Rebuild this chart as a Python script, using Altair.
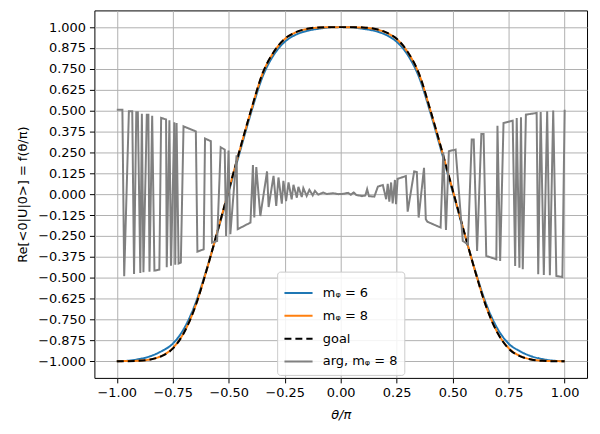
import altair as alt
import pandas as pd

# theta / pi sample grid for the smooth curves
theta = [-1.00, -0.95, -0.90, -0.85, -0.80, -0.75, -0.70, -0.65, -0.60, -0.55,
         -0.50, -0.45, -0.40, -0.35, -0.30, -0.25, -0.20, -0.15, -0.10, -0.05,
         0.00,
         0.05, 0.10, 0.15, 0.20, 0.25, 0.30, 0.35, 0.40, 0.45, 0.50,
         0.55, 0.60, 0.65, 0.70, 0.75, 0.80, 0.85, 0.90, 0.95, 1.00]

m6 = [-1.000, -0.997, -0.987, -0.970, -0.940, -0.895, -0.805, -0.660, -0.455, -0.225,
      0.015, 0.255, 0.490, 0.700, 0.832, 0.912, 0.955, 0.978, 0.990, 0.998,
      1.000,
      0.998, 0.990, 0.978, 0.955, 0.912, 0.832, 0.700, 0.490, 0.255, 0.015,
      -0.225, -0.455, -0.660, -0.805, -0.895, -0.940, -0.970, -0.987, -0.997, -1.000]

m8 = [-1.000, -0.999, -0.997, -0.989, -0.968, -0.922, -0.828, -0.674, -0.460, -0.221,
      0.024, 0.268, 0.503, 0.718, 0.848, 0.928, 0.969, 0.989, 0.997, 0.999,
      1.000,
      0.999, 0.997, 0.989, 0.969, 0.928, 0.848, 0.718, 0.503, 0.268, 0.024,
      -0.221, -0.460, -0.674, -0.828, -0.922, -0.968, -0.989, -0.997, -0.999, -1.000]

goal = [-1.000, -1.000, -0.998, -0.990, -0.970, -0.925, -0.830, -0.675, -0.460, -0.220,
        0.025, 0.270, 0.505, 0.720, 0.850, 0.930, 0.970, 0.990, 0.998, 1.000,
        1.000,
        1.000, 0.998, 0.990, 0.970, 0.930, 0.850, 0.720, 0.505, 0.270, 0.025,
        -0.220, -0.460, -0.675, -0.830, -0.925, -0.970, -0.990, -0.998, -1.000, -1.000]

# phase curve (arg) for m_phi = 8, vertices
arg_x = [-1.000, -0.975, -0.967, -0.946, -0.931, -0.923, -0.913, -0.906, -0.895, -0.888,
         -0.881, -0.866, -0.859, -0.854, -0.842, -0.832, -0.810, -0.802, -0.780, -0.777,
         -0.765, -0.758, -0.743, -0.739, -0.733, -0.724, -0.714, -0.702, -0.647, -0.640,
         -0.612, -0.606, -0.580, -0.575, -0.552, -0.536, -0.518, -0.512, -0.501, -0.493,
         -0.465, -0.460, -0.403, -0.392, -0.386, -0.377, -0.359, -0.329, -0.322, -0.300,
         -0.288, -0.278, -0.263, -0.256, -0.244, -0.233, -0.219, -0.211, -0.196, -0.189,
         -0.174, -0.167, -0.152, -0.140, -0.125, -0.115, -0.100, -0.078, -0.063, -0.034,
         -0.010,
         0.011, 0.033, 0.045, 0.058, 0.070, 0.095, 0.110, 0.118, 0.126, 0.150,
         0.166, 0.188, 0.203, 0.210, 0.217, 0.225, 0.232, 0.242, 0.247, 0.254,
         0.291, 0.299, 0.328, 0.340, 0.348, 0.372, 0.380, 0.387, 0.446, 0.458,
         0.470, 0.483, 0.513, 0.545, 0.568, 0.585, 0.594, 0.609, 0.628, 0.638,
         0.650, 0.695, 0.700, 0.712, 0.727, 0.768, 0.779, 0.786, 0.798, 0.805,
         0.813, 0.827, 0.875, 0.882, 0.893, 0.907, 0.922, 0.934, 0.949, 0.963,
         0.990, 1.000]
arg_y = [0.505, 0.505, -0.492, 0.496, 0.496, -0.478, 0.490, 0.490, -0.472, 0.482,
         -0.468, 0.476, 0.476, -0.464, 0.470, -0.458, -0.452, 0.457, 0.447, -0.438,
         0.442, -0.429, 0.430, -0.423, 0.426, -0.415, -0.410, 0.406, 0.376, -0.344,
         -0.330, 0.333, 0.317, -0.290, -0.280, 0.281, 0.267, -0.250, 0.261, -0.240,
         0.233, -0.210, -0.170, 0.174, -0.140, 0.162, -0.131, 0.136, -0.077, 0.110,
         -0.071, 0.100, -0.057, 0.080, -0.041, 0.070, -0.031, 0.056, -0.021, 0.044,
         -0.017, 0.036, -0.011, 0.026, -0.007, 0.020, -0.003, 0.010, 0.001, 0.006,
         0.000,
         0.002, 0.008, -0.003, 0.010, -0.005, -0.012, -0.008, 0.030, -0.012, -0.015,
         0.045, 0.055, -0.030, 0.062, -0.045, 0.070, -0.055, 0.085, -0.060, 0.092,
         0.108, -0.105, 0.136, 0.132, -0.140, 0.158, -0.150, -0.165, -0.200, 0.250,
         -0.215, 0.257, 0.267, -0.280, -0.300, 0.327, 0.327, -0.340, 0.360, 0.360,
         -0.370, -0.390, 0.410, -0.400, 0.426, 0.440, -0.430, 0.456, -0.440, 0.460,
         -0.450, 0.476, 0.486, -0.480, 0.492, -0.484, 0.496, -0.486, 0.500, -0.490,
         -0.496, 0.505]

x_ticks = [-1.0, -0.75, -0.5, -0.25, 0.0, 0.25, 0.5, 0.75, 1.0]
y_ticks = [-1.0, -0.875, -0.75, -0.625, -0.5, -0.375, -0.25, -0.125, 0.0,
           0.125, 0.25, 0.375, 0.5, 0.625, 0.75, 0.875, 1.0]

names = ["mᵩ = 6", "mᵩ = 8", "goal", "arg, mᵩ = 8"]
colors = ["#1f77b4", "#ff7f0e", "#000000", "#808080"]
dashes = [[1, 0], [1, 0], [7, 4], [1, 0]]

rows = []
for xv, a, b, g in zip(theta, m6, m8, goal):
    rows.append({"x": xv, "y": a, "series": names[0]})
    rows.append({"x": xv, "y": b, "series": names[1]})
    rows.append({"x": xv, "y": g, "series": names[2]})
for xv, yv in zip(arg_x, arg_y):
    rows.append({"x": xv, "y": yv, "series": names[3]})
df = pd.DataFrame(rows)

FONT = "DejaVu Sans"

legend = alt.Legend(title=None, orient="none", legendX=184, legendY=263,
                    symbolType="stroke", symbolSize=800, symbolStrokeWidth=2,
                    labelFontSize=13, labelFont=FONT, labelColor="black",
                    fillColor="rgba(255,255,255,0.85)", strokeColor="#cccccc",
                    cornerRadius=3, padding=6, rowPadding=-4, labelOffset=9)

xenc = alt.X("x:Q", scale=alt.Scale(domain=[-1.1, 1.1], nice=False, zero=False),
             axis=alt.Axis(values=x_ticks, format=".2f", title="θ/π",
                           titleFontStyle="italic"))
yenc = alt.Y("y:Q", scale=alt.Scale(domain=[-1.1, 1.1], nice=False, zero=False),
             axis=alt.Axis(values=y_ticks, format=".3f", title="Re[<0|U|0>] = f(θ/π)"))
cenc = alt.Color("series:N", scale=alt.Scale(domain=names, range=colors), legend=legend)
denc = alt.StrokeDash("series:N", scale=alt.Scale(domain=names, range=dashes), legend=legend)

base = alt.Chart(df)
layers = []
for i, nm in enumerate(names):
    interp = "linear" if i == 3 else "monotone"
    layers.append(
        base.transform_filter(alt.datum.series == nm)
        .mark_line(strokeWidth=2, interpolate=interp, clip=True)
        .encode(x=xenc, y=yenc, color=cenc, strokeDash=denc)
    )

chart = alt.layer(*layers).properties(
    width=496, height=370,
    autosize=alt.AutoSizeParams(type="none"),
    padding={"left": 87, "top": 1, "right": 5, "bottom": 47},
).configure_view(
    stroke="black", strokeWidth=1
).configure_axis(
    labelFont=FONT, titleFont=FONT, labelFontSize=13, titleFontSize=13,
    labelColor="black", titleColor="black", titleFontWeight="normal",
    tickColor="black", tickSize=5, domain=False,
    grid=True, gridColor="#b0b0b0", gridWidth=1, labelPadding=4,
).configure_axisY(
    titlePadding=8
).configure_axisX(
    titlePadding=9
)

chart.save("out.html", embed_options={"renderer": "svg", "actions": False})
